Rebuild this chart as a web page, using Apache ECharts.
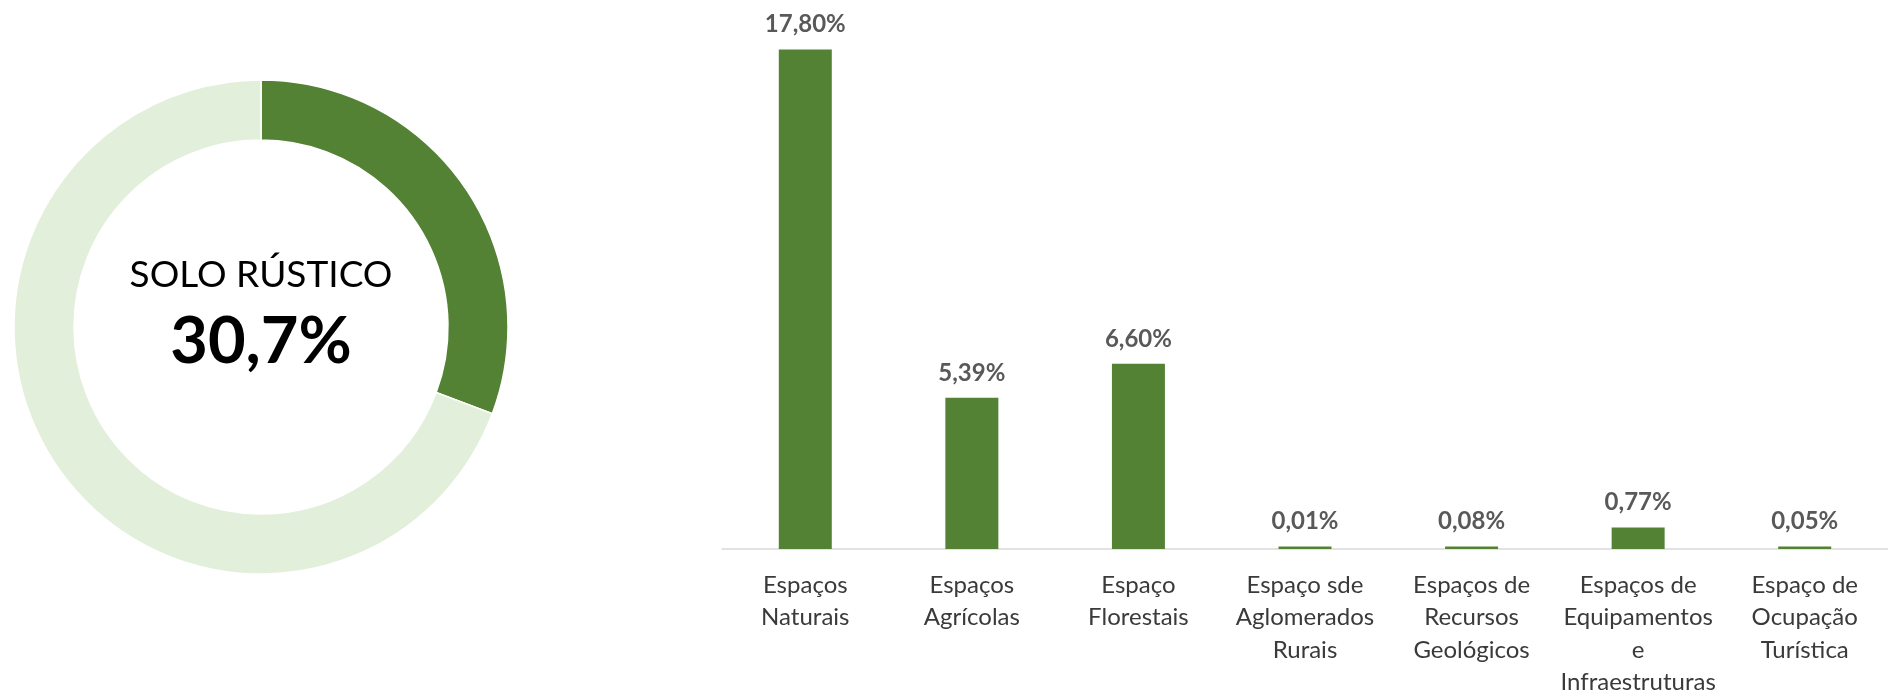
<!DOCTYPE html>
<html>
<head>
<meta charset="utf-8">
<script src="https://cdn.jsdelivr.net/npm/echarts@6/dist/echarts.min.js"></script>
<style>
html,body{margin:0;padding:0;background:#fff;}
#chart{width:1888px;height:699px;}
</style>
</head>
<body>
<div id="chart"></div>
<script>
// ---- data ----
const donutLabel = 'SOLO RÚSTICO';
const donutNames = ['Solo Rústico', 'Restante'];
const donutValues = [30.7, 69.3];
const categories = [
  'Espaços\nNaturais',
  'Espaços\nAgrícolas',
  'Espaço\nFlorestais',
  'Espaço sde\nAglomerados\nRurais',
  'Espaços de\nRecursos\nGeológicos',
  'Espaços de\nEquipamentos\ne\nInfraestruturas',
  'Espaço de\nOcupação\nTurística'
];
const barValues = [17.80, 5.39, 6.60, 0.01, 0.08, 0.77, 0.05];

// ---- chart ----
const FONT = 'Lato, "Noto Sans", sans-serif';
const fmt = (v, d) => v.toFixed(d).replace('.', ',') + '%';
const chart = echarts.init(document.getElementById('chart'), null, {renderer: 'canvas'});
chart.setOption({
  animation: false,
  backgroundColor: '#ffffff',
  graphic: [
    {type: 'text', x: 261, y: 275, style: {text: donutLabel, font: '400 37px ' + FONT, fill: '#000', textAlign: 'center', textVerticalAlign: 'middle'}},
    {type: 'text', x: 261, y: 341.7, style: {text: fmt(donutValues[0], 1), font: '700 65px ' + FONT, fill: '#000', textAlign: 'center', textVerticalAlign: 'middle'}}
  ],
  grid: {left: 722, width: 1171, top: 44, bottom: 148, containLabel: false},
  xAxis: {
    type: 'category',
    data: categories,
    axisTick: {show: false},
    axisLine: {lineStyle: {color: '#D9D9D9', width: 1.5}},
    axisLabel: {interval: 0, fontFamily: FONT, fontSize: 24, lineHeight: 32.5, color: '#3a3a3a', margin: 20}
  },
  yAxis: {type: 'value', min: 0, max: 18, show: false, splitLine: {show: false}},
  series: [
    {
      type: 'pie',
      center: [261, 327],
      radius: [187, 247],
      startAngle: 90,
      clockwise: true,
      silent: true,
      label: {show: false},
      labelLine: {show: false},
      itemStyle: {borderColor: '#fff', borderWidth: 1.5},
      data: donutNames.map((n, i) => ({name: n, value: donutValues[i], itemStyle: {color: i === 0 ? '#548235' : '#E2EFDA'}}))
    },
    {
      type: 'bar',
      data: barValues,
      barWidth: 53,
      barMinHeight: 2.5,
      itemStyle: {color: '#548235'},
      label: {
        show: true, position: 'top', distance: 13,
        fontFamily: FONT, fontSize: 24, fontWeight: 'bold', color: '#595959',
        formatter: p => fmt(p.value, 2)
      }
    }
  ]
});
</script>
</body>
</html>
